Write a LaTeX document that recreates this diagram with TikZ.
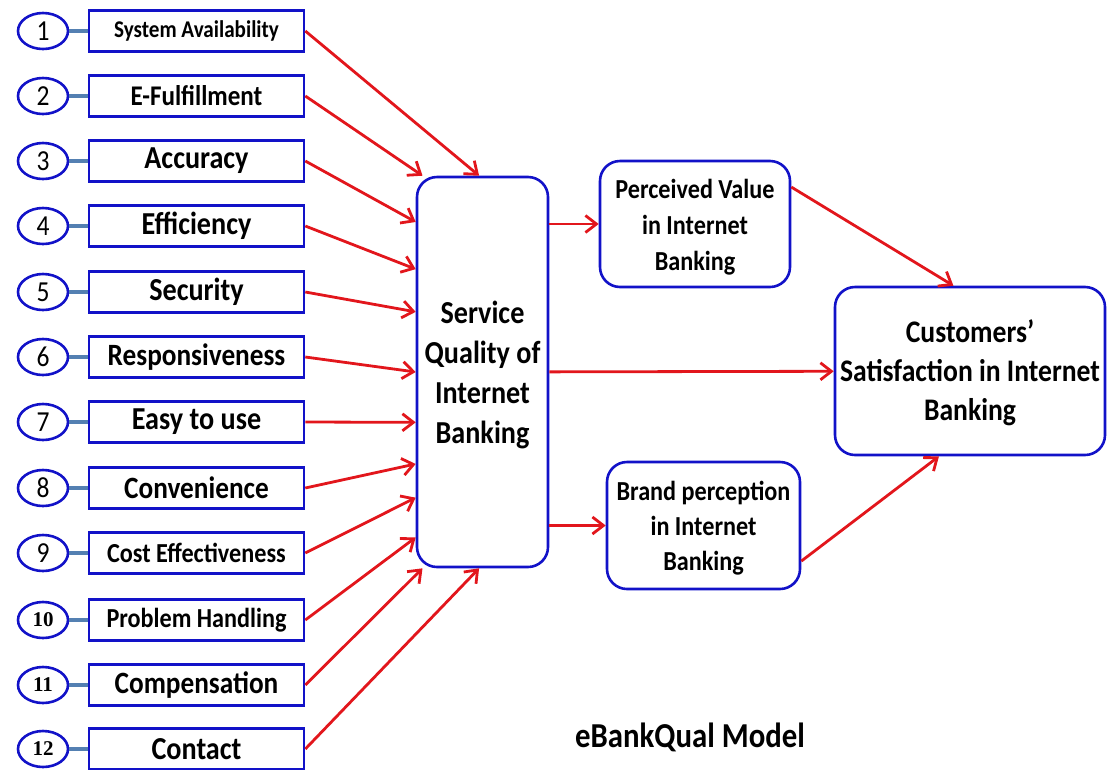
\documentclass[tikz,border=0pt]{standalone}
\usepackage{fontspec}
\setmainfont{Carlito}[FakeStretch=0.88]
\newfontfamily\numfont{Liberation Serif}
\usetikzlibrary{shapes,arrows,arrows.meta,positioning,calc}

\definecolor{boxblue}{RGB}{18,18,200}
\definecolor{feedred}{RGB}{226,22,28}
\definecolor{linkblue}{RGB}{84,128,178}

\newcommand{\fs}[1]{\fontsize{#1}{#1}\selectfont}

\tikzset{
  numcirc/.style={draw=boxblue, line width=2.6pt, ellipse, minimum width=50pt,
    minimum height=36pt, inner sep=0pt, font=\fs{29}},
  bignum/.style={numcirc, font=\numfont\bfseries\fs{21}},
  factor/.style={draw=boxblue, line width=2.6pt, rectangle, minimum width=215pt,
    minimum height=41pt, inner sep=0pt, font=\bfseries\fs{32}},
  blob/.style={draw=boxblue, line width=2.6pt, rounded corners=20pt, align=center,
    inner sep=0pt, text depth=0pt},
  link/.style={draw=linkblue, line width=4pt},
  feed/.style={draw=feedred, line width=2.8pt, -{Straight Barb[length=11pt, width=17pt]}},
}

\begin{document}
\begin{tikzpicture}[x=1pt, y=-1pt]
    \useasboundingbox (0,0) rectangle (1107,769);

    % numbered dimensions (left column)
    \node[numcirc] (c1) at (43,31) {1};
    \node[factor, font=\bfseries\fs{24}] (f1) at (196.5,31) {System Availability};
    \node[numcirc] (c2) at (43,96) {2};
    \node[factor, font=\bfseries\fs{28.5}] (f2) at (196.5,96) {E-Fulfillment};
    \node[numcirc] (c3) at (43,161) {3};
    \node[factor] (f3) at (196.5,161) {Accuracy};
    \node[numcirc] (c4) at (43,226) {4};
    \node[factor] (f4) at (196.5,226) {Efficiency};
    \node[numcirc] (c5) at (43,292) {5};
    \node[factor] (f5) at (196.5,292) {Security};
    \node[numcirc] (c6) at (43,357) {6};
    \node[factor, font=\bfseries\fs{31}] (f6) at (196.5,357) {Responsiveness};
    \node[numcirc] (c7) at (43,422) {7};
    \node[factor] (f7) at (196.5,422) {Easy to use};
    \node[numcirc] (c8) at (43,488) {8};
    \node[factor, font=\bfseries\fs{31}] (f8) at (196.5,488) {Convenience};
    \node[numcirc] (c9) at (43,553) {9};
    \node[factor, font=\bfseries\fs{27.5}] (f9) at (196.5,553) {Cost Effectiveness};
    \node[bignum] (c10) at (43,620) {10};
    \node[factor, font=\bfseries\fs{27.5}] (f10) at (196.5,620) {Problem Handling};
    \node[bignum] (c11) at (43,685) {11};
    \node[factor, font=\bfseries\fs{31}] (f11) at (196.5,685) {Compensation};
    \node[bignum] (c12) at (43,749) {12};
    \node[factor] (f12) at (196.5,749) {Contact};

    % circle to box ties
    \draw[link] (c1) -- (f1);
    \draw[link] (c2) -- (f2);
    \draw[link] (c3) -- (f3);
    \draw[link] (c4) -- (f4);
    \draw[link] (c5) -- (f5);
    \draw[link] (c6) -- (f6);
    \draw[link] (c7) -- (f7);
    \draw[link] (c8) -- (f8);
    \draw[link] (c9) -- (f9);
    \draw[link] (c10) -- (f10);
    \draw[link] (c11) -- (f11);
    \draw[link] (c12) -- (f12);

    % service quality (middle)
    \node[blob, minimum width=131pt, minimum height=390pt, text height=142pt,
          font=\bfseries\fontsize{32}{40}\selectfont] (sq) at (482.5,372)
          {Service\\Quality of\\Internet\\Banking};

    % the two mediators
    \node[blob, minimum width=190pt, minimum height=126pt, text height=92pt,
          font=\bfseries\fontsize{27.5}{36}\selectfont] (pv) at (695,224)
          {Perceived Value\\in Internet\\Banking};
    \node[blob, minimum width=193pt, minimum height=127pt, text height=89pt,
          font=\bfseries\fontsize{27.5}{35}\selectfont] (bp) at (703.5,525.5)
          {Brand perception\\in Internet\\Banking};

    % outcome (right)
    \node[blob, minimum width=270pt, minimum height=168pt, text height=98pt,
          font=\bfseries\fontsize{31.4}{39}\selectfont] (cs) at (970,371)
          {Customers’\\Satisfaction in Internet\\Banking};

    \node[font=\bfseries\fs{35}] (title) at (690,737) {eBankQual Model};

    % dimensions -> service quality
    \draw[feed] (f1.east) -- (sq.91.6);
    \draw[feed] (f2.east) -- (sq.107.8);
    \draw[feed] (f3.east) -- (sq.114.8);
    \draw[feed] (f4.east) -- (sq.123.5);
    \draw[feed] (f5.east) -- (sq.138);
    \draw[feed] (f6.east) -- (sq.180);
    \draw[feed] (f7.east) -- (sq.217.4);
    \draw[feed] (f8.east) -- (sq.234.8);
    \draw[feed] (f9.east) -- (sq.242.3);
    \draw[feed] (f10.east) -- (sq.248.7);
    \draw[feed] (f11.east) -- (sq.253);
    \draw[feed] (f12.east) -- (sq.269.3);

    % service quality -> mediators and outcome
    \draw[feed] (sq.east |- pv) -- (pv);
    \draw[feed] (sq.east |- bp) -- (bp);
    \draw[feed] (sq) -- (cs);
    \draw[feed] (pv.21) -- (cs.101.4);
    \draw[feed] (bp.340.3) -- (cs.250.3);

\end{tikzpicture}
\end{document}
